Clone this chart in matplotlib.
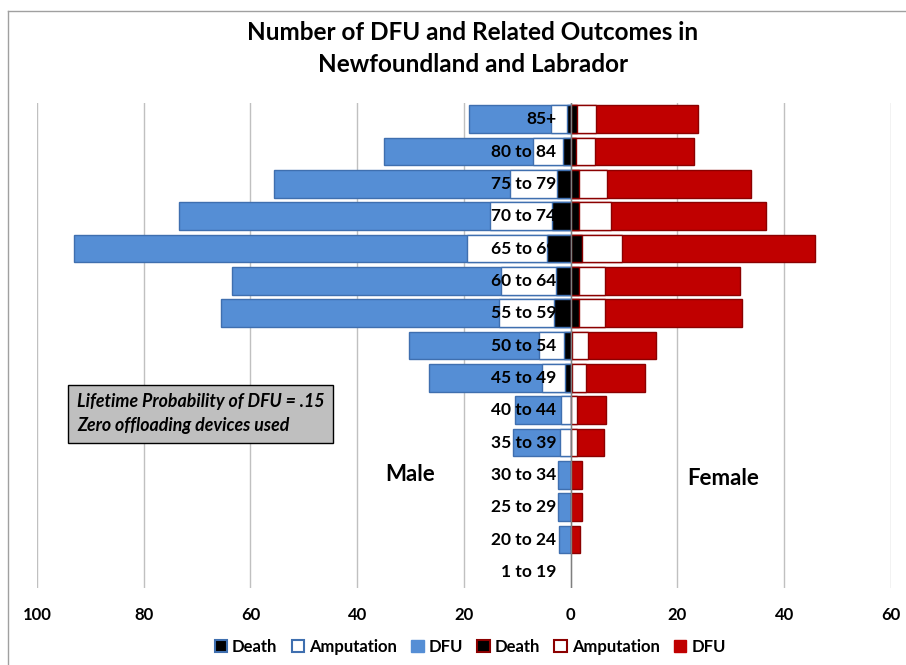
import matplotlib
matplotlib.use("Agg")
import matplotlib.pyplot as plt
from matplotlib.patches import Patch
from matplotlib.lines import Line2D
from matplotlib.ticker import FuncFormatter

plt.rcParams['font.family'] = ['Lato', 'DejaVu Sans']

categories = ["85+", "80 to 84", "75 to 79", "70 to 74", "65 to 69", "60 to 64",
              "55 to 59", "50 to 54", "45 to 49", "40 to 44", "35 to 39",
              "30 to 34", "25 to 29", "20 to 24", "1 to 19"]
male_dfu = [19, 35, 55.5, 73.3, 93, 63.5, 65.6, 30.3, 26.5, 10.5, 10.8, 2.3, 2.4, 2.2, 0]
male_amp = [3.7, 7.1, 11.4, 15.1, 19.4, 13.1, 13.5, 6.0, 5.4, 1.9, 2.1, 0, 0, 0, 0]
male_death = [0.7, 1.5, 2.6, 3.5, 4.5, 2.8, 3.2, 1.3, 1.0, 0, 0, 0, 0, 0, 0]
female_dfu = [23.9, 23.1, 33.8, 36.5, 45.7, 31.8, 32.0, 16.0, 13.9, 6.6, 6.2, 2.1, 2.1, 1.7, 0]
female_amp = [4.7, 4.5, 6.8, 7.5, 9.6, 6.4, 6.5, 3.2, 2.8, 1.1, 1.1, 0, 0, 0, 0]
female_death = [1.2, 1.0, 1.5, 1.5, 2.1, 1.5, 1.5, 0.3, 0.3, 0, 0, 0, 0, 0, 0]
xticks = [-100, -80, -60, -40, -20, 0, 20, 40, 60]

blue = "#558ED5"
blue_edge = "#3F6FAF"
red = "#C00000"
red_edge = "#8B0000"

fig = plt.figure(figsize=(9.06, 6.65), dpi=100)
ax = fig.add_axes([0.0408, 0.1158, 0.9426, 0.7292])

n = len(categories)
ys = list(range(n))
h = 0.86

def draw(vals, sign, face, edge, z):
    v = [sign * x for x in vals]
    mask_y = [y for y, x in zip(ys, vals) if x > 0]
    mask_v = [sv for sv, x in zip(v, vals) if x > 0]
    ax.barh(mask_y, mask_v, height=h, color=face, edgecolor=edge, linewidth=1, zorder=z)

draw(male_dfu, -1, blue, blue_edge, 2)
draw(male_amp, -1, "white", blue_edge, 3)
draw(male_death, -1, "black", blue_edge, 4)
draw(female_dfu, 1, red, red_edge, 2)
draw(female_amp, 1, "white", red_edge, 3)
draw(female_death, 1, "black", red_edge, 4)

for y, c in zip(ys, categories):
    ax.text(-2.7, y, c, ha="right", va="center", fontsize=12.5, fontweight="bold", zorder=6)

ax.axvline(0, color="#7F7F7F", lw=1, zorder=5)
ax.set_xlim(-100, 60)
ax.set_ylim(n - 0.5, -0.5)
ax.set_xticks(xticks)
ax.xaxis.set_major_formatter(FuncFormatter(lambda v, p: f"{abs(int(v))}"))
ax.set_yticks([])
ax.grid(axis="x", color="#C0C0C0", lw=1, zorder=0)
ax.set_axisbelow(True)
for s in ax.spines.values():
    s.set_visible(False)
ax.tick_params(axis="x", length=0, pad=14, labelsize=12)
for lbl in ax.get_xticklabels():
    lbl.set_fontweight("bold")

ax.text(-30, 11.0, "Male", ha="center", va="center", fontsize=16, fontweight="bold")
ax.text(28.5, 11.1, "Female", ha="center", va="center", fontsize=16, fontweight="bold")

fig.text(0.522, 0.951, "Number of DFU and Related Outcomes in", ha="center", va="center",
         fontsize=17.5, fontweight="bold")
fig.text(0.522, 0.903, "Newfoundland and Labrador", ha="center", va="center",
         fontsize=17.5, fontweight="bold")

fig.text(0.085, 0.378, "Lifetime Probability of DFU = .15\nZero offloading devices used",
         ha="left", va="center", fontsize=12.8, fontweight="bold", style="italic",
         linespacing=1.45,
         bbox=dict(boxstyle="square,pad=0.5", facecolor="#BFBFBF", edgecolor="black", lw=1))

handles = [
    Patch(facecolor="black", edgecolor=blue_edge, lw=1.5, label="Death"),
    Patch(facecolor="white", edgecolor=blue_edge, lw=1.5, label="Amputation"),
    Patch(facecolor=blue, edgecolor=blue, lw=1, label="DFU"),
    Patch(facecolor="black", edgecolor=red_edge, lw=1.5, label="Death"),
    Patch(facecolor="white", edgecolor=red_edge, lw=1.5, label="Amputation"),
    Patch(facecolor=red, edgecolor=red, lw=1, label="DFU"),
]
leg = fig.legend(handles=handles, loc="center", bbox_to_anchor=(0.519, 0.027), ncol=6,
                 frameon=False, handlelength=0.75, handleheight=0.75, handletextpad=0.3,
                 columnspacing=0.85, prop={"weight": "bold", "size": 12})

# figure frame lines (top and left)
fig.add_artist(Line2D([8/906, 1], [1 - 11/665, 1 - 11/665], transform=fig.transFigure,
                      color="#A0A0A0", lw=1))
fig.add_artist(Line2D([8/906, 8/906], [0, 1 - 11/665], transform=fig.transFigure,
                      color="#A0A0A0", lw=1))

fig.savefig("out.png", dpi=100)
